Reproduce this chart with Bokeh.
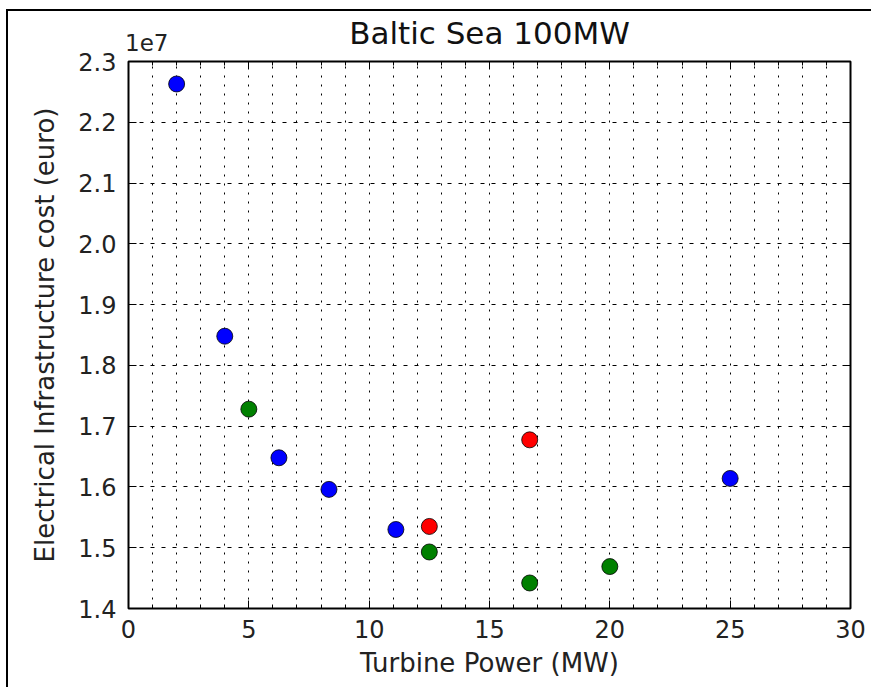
from bokeh.plotting import figure
from bokeh.models import (FixedTicker, LinearAxis, CustomJSTickFormatter, Range1d)
from bokeh.embed import file_html
from bokeh.resources import INLINE

# Turbine rating (MW) vs. electrical infrastructure cost (euro), by layout series
blue_power = [2, 4, 6.25, 8.33, 11.11, 25]
blue_cost = [2.263e7, 1.848e7, 1.648e7, 1.596e7, 1.530e7, 1.614e7]

green_power = [5, 12.5, 16.67, 20]
green_cost = [1.728e7, 1.493e7, 1.442e7, 1.469e7]

red_power = [12.5, 16.67]
red_cost = [1.535e7, 1.6775e7]

x_major = [0, 5, 10, 15, 20, 25, 30]
x_minor = [0, 1, 2, 3, 4, 5, 6, 7, 8, 9, 10, 11, 12, 13, 14, 15, 16, 17, 18, 19,
           20, 21, 22, 23, 24, 25, 26, 27, 28, 29, 30]
y_major = [1.4e7, 1.5e7, 1.6e7, 1.7e7, 1.8e7, 1.9e7, 2.0e7, 2.1e7, 2.2e7, 2.3e7]

FONT = "DejaVu Sans"
TXT = "#222"

p = figure(width=865, height=678, output_backend="svg", toolbar_location=None,
           x_range=Range1d(0, 30), y_range=Range1d(1.4e7, 2.3e7),
           min_border_left=120, min_border_right=23, min_border_top=49,
           min_border_bottom=81,
           styles={"border-left": "2px solid #000", "border-top": "2px solid #000",
                   "margin-left": "6px", "margin-top": "9px"})

p.outline_line_color = "black"
p.outline_line_width = 2
p.background_fill_color = "white"
p.border_fill_color = "white"

xt = FixedTicker(ticks=x_major, minor_ticks=x_minor)
yt = FixedTicker(ticks=y_major, minor_ticks=[])
fmt = CustomJSTickFormatter(code="return (tick / 1e7).toFixed(1);")

# bottom / left axes
p.xaxis.ticker = xt
p.yaxis.ticker = yt
p.yaxis.formatter = fmt
for ax in (p.xaxis[0], p.yaxis[0]):
    ax.axis_line_color = None
    ax.major_tick_in = 8
    ax.major_tick_out = 0
    ax.minor_tick_in = 4
    ax.minor_tick_out = 0
    ax.major_tick_line_color = "black"
    ax.minor_tick_line_color = "black"
    ax.major_label_text_font = FONT
    ax.major_label_text_font_size = "24px"
    ax.major_label_text_color = TXT
    ax.axis_label_text_font = FONT
    ax.axis_label_text_font_size = "26px"
    ax.axis_label_text_font_style = "normal"
    ax.axis_label_text_color = TXT
p.xaxis.axis_label = "Turbine Power (MW)"
p.yaxis.axis_label = "Electrical Infrastructure cost (euro)"
p.xaxis.major_label_standoff = 11
p.yaxis.major_label_standoff = 12
p.xaxis.axis_label_standoff = 7
p.yaxis.axis_label_standoff = 15

# top side: mirrored ticks, the 1e7 scale marker just right of x = 0
# (leading no-break spaces push the centred label to start at the frame edge),
# and the chart title carried as this axis's label
top = LinearAxis(ticker=xt, axis_line_color=None, major_tick_in=8, major_tick_out=0,
                 minor_tick_in=4, minor_tick_out=0,
                 formatter=CustomJSTickFormatter(
                     code="return tick == 0 ? '\\u00a0\\u00a0\\u00a0\\u00a0\\u00a01e7' : '';"),
                 major_label_standoff=6,
                 major_label_text_font=FONT, major_label_text_font_size="23px",
                 major_label_text_color=TXT,
                 axis_label="Baltic Sea 100MW", axis_label_standoff=-24,
                 axis_label_text_font=FONT, axis_label_text_font_size="31px",
                 axis_label_text_font_style="normal", axis_label_text_color="#111")
right = LinearAxis(ticker=yt, axis_line_color=None, major_tick_in=8, major_tick_out=0,
                   minor_tick_in=4, minor_tick_out=0, major_label_text_font_size="0px")
right.major_label_text_color = None
p.add_layout(top, "above")
p.add_layout(right, "right")

# grid: dotted verticals at every unit, dashed horizontals at each major tick
p.xgrid.ticker = FixedTicker(ticks=x_minor)
p.xgrid.grid_line_color = "black"
p.xgrid.grid_line_dash = "2 7"
p.xgrid.grid_line_width = 1
p.ygrid.ticker = yt
p.ygrid.grid_line_color = "black"
p.ygrid.grid_line_dash = "4 7"
p.ygrid.grid_line_width = 1

p.scatter(blue_power, blue_cost, size=16, fill_color="#0000ff", line_color="black",
          line_width=0.8)
p.scatter(green_power, green_cost, size=16, fill_color="#008000", line_color="black",
          line_width=0.8)
p.scatter(red_power, red_cost, size=16, fill_color="#ff0000", line_color="black",
          line_width=0.8)

open("out.html", "w").write(file_html(p, INLINE))
